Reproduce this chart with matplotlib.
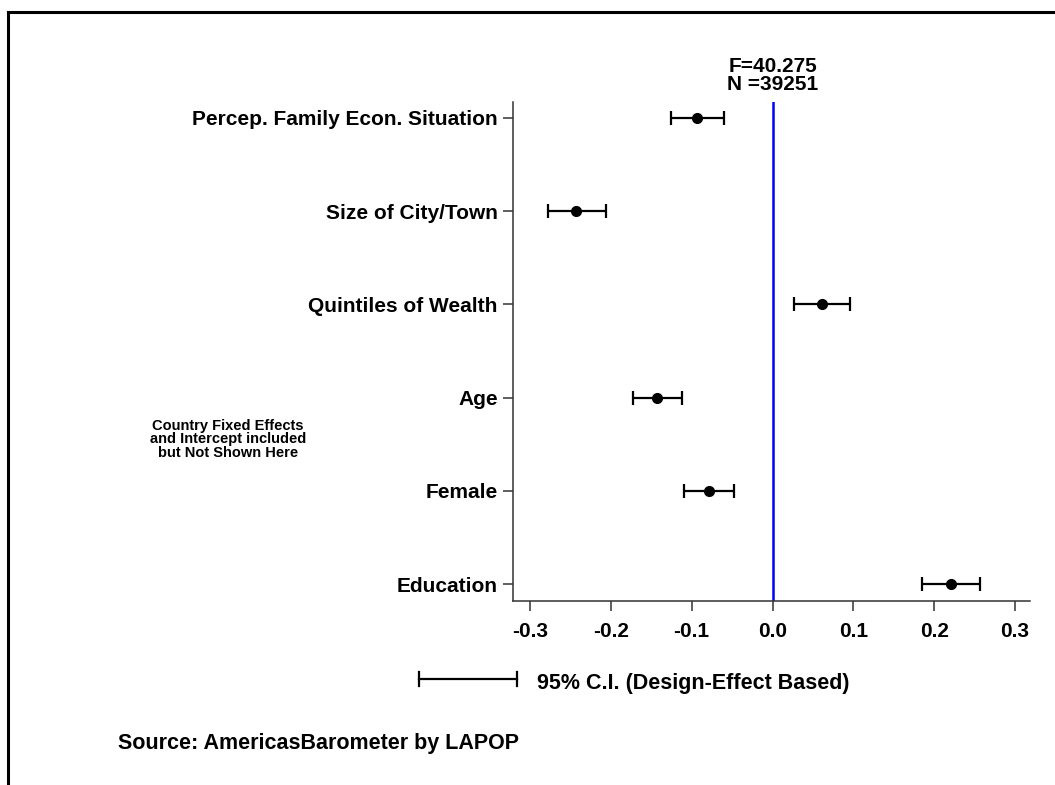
import numpy as np
import matplotlib
matplotlib.use('Agg')
import matplotlib.pyplot as plt
from matplotlib.lines import Line2D

plt.rcParams['font.family'] = ['Liberation Sans', 'DejaVu Sans']
plt.rcParams['font.weight'] = 'bold'

# coefficients and 95% C.I. (top to bottom)
labels = ['Percep. Family Econ. Situation', 'Size of City/Town', 'Quintiles of Wealth',
          'Age', 'Female', 'Education']
coef = [-0.093, -0.243, 0.061, -0.143, -0.079, 0.221]
ci_low = [-0.125, -0.278, 0.027, -0.173, -0.109, 0.185]
ci_high = [-0.060, -0.206, 0.096, -0.112, -0.048, 0.257]
xticks = [-0.3, -0.2, -0.1, 0.0, 0.1, 0.2, 0.3]
f_stat = '40.275'
n_obs = '39251'
note_lines = ['Country Fixed Effects', 'and Intercept included', 'but Not Shown Here']

W, H = 1055, 785
fig = plt.figure(figsize=(W / 100, H / 100), dpi=100)
ax = fig.add_axes([513 / W, 1 - 601 / H, (1030 - 513) / W, (601 - 102) / H])

ypos = np.arange(len(labels), 0, -1)
coef = np.array(coef)
lo = coef - np.array(ci_low)
hi = np.array(ci_high) - coef
ax.errorbar(coef, ypos, xerr=[lo, hi], fmt='o', color='black', ms=7,
            elinewidth=1.6, capsize=5, capthick=1.6, zorder=3)
ax.axvline(0, color='#0000ff', lw=1.8, zorder=2)

ax.set_xlim(-0.321, 0.3185)
ax.set_ylim(0.82, 6.17)
ax.set_yticks(ypos)
ax.set_yticklabels(labels, fontsize=15, fontweight='bold')
ax.set_xticks(xticks)
ax.set_xticklabels(['%.1f' % t for t in xticks], fontsize=15, fontweight='bold')
ax.tick_params(axis='both', length=7, width=1.1, color='#333333')
ax.tick_params(axis='y', pad=4)
ax.tick_params(axis='x', pad=8)
for s in ['top', 'right']:
    ax.spines[s].set_visible(False)
for s in ['left', 'bottom']:
    ax.spines[s].set_linewidth(1.1)
    ax.spines[s].set_color('#333333')

xc = ax.transData.transform((0, 0))[0] / W
fig.text(xc, 1 - 67 / H, 'F=' + f_stat, ha='center', va='center', fontsize=15, fontweight='bold')
fig.text(xc, 1 - 85 / H, 'N =' + n_obs, ha='center', va='center', fontsize=15, fontweight='bold')

for i, line in enumerate(note_lines):
    fig.text(228 / W, 1 - (426 + 13.5 * i) / H, line, ha='center', va='center',
             fontsize=10.5, fontweight='bold')

# legend for C.I.
fig.add_artist(Line2D([419 / W, 517 / W], [1 - 679 / H] * 2, color='black', lw=1.6))
for xx in [419, 517]:
    fig.add_artist(Line2D([xx / W] * 2, [1 - 672 / H, 1 - 686 / H], color='black', lw=1.6))
fig.text(537 / W, 1 - 684 / H, '95% C.I. (Design-Effect Based)', ha='left', va='center',
         fontsize=15.5, fontweight='bold')

fig.text(118 / W, 1 - 743 / H, 'Source: AmericasBarometer by LAPOP', ha='left', va='center',
         fontsize=15.5, fontweight='bold')

# outer frame (top and left)
fig.add_artist(Line2D([7.5 / W, 1.0], [1 - 12 / H] * 2, color='black', lw=2.2))
fig.add_artist(Line2D([7.5 / W] * 2, [1 - 12 / H, 0.0], color='black', lw=2.2))

fig.savefig('out.png', dpi=100)
